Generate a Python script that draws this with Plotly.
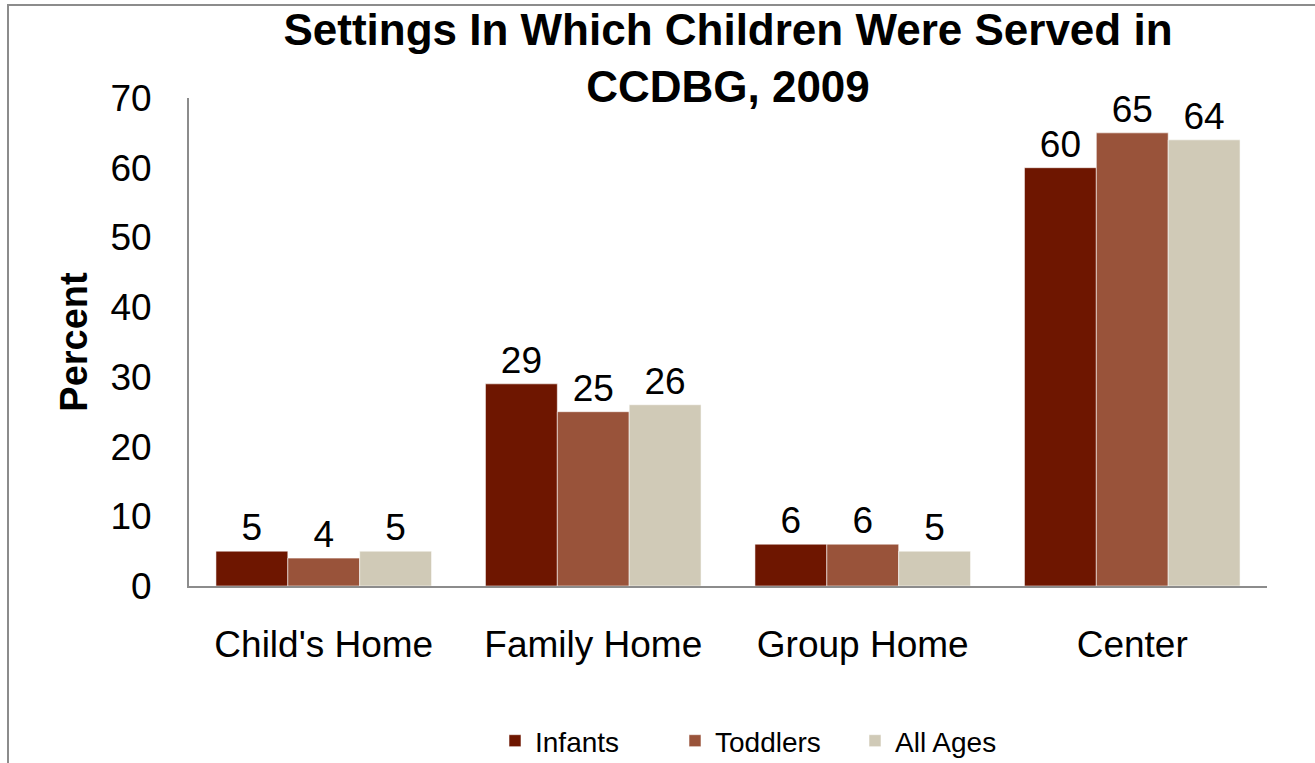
import plotly.graph_objects as go

# Care settings and share of children served (percent)
settings = ["Child's Home", "Family Home", "Group Home", "Center"]
infants = [5, 29, 6, 60]
toddlers = [4, 25, 6, 65]
all_ages = [5, 26, 5, 64]

series = [
    ("Infants", infants, "#6E1600"),
    ("Toddlers", toddlers, "#99533A"),
    ("All Ages", all_ages, "#D0CAB7"),
]

W, H = 1315, 763
L, R, T, B = 189, 48, 98, 177
pw, ph = W - L - R, H - T - B

FONT = "Liberation Sans, Arial, sans-serif"

fig = go.Figure()
for name, vals, color in series:
    fig.add_trace(go.Bar(
        name=name,
        x=settings,
        y=vals,
        marker=dict(color=color, line=dict(color="rgba(255,255,255,0.55)", width=1)),
        text=vals,
        textposition="outside",
        textfont=dict(size=37, color="black", family=FONT),
        cliponaxis=False,
    ))

# outer chart frame (extends past the page edge on the right and bottom)
def px_x(v):
    return (v - L) / pw

def px_y(v):
    return (H - B - v) / ph

fig.add_shape(
    type="rect", xref="paper", yref="paper",
    x0=px_x(8), x1=px_x(W + 20), y0=px_y(H + 20), y1=px_y(5),
    line=dict(color="#8C8C8C", width=2), fillcolor="rgba(0,0,0,0)", layer="below",
)

fig.update_layout(
    width=W, height=H,
    margin=dict(l=L, r=R, t=T, b=B, autoexpand=False),
    paper_bgcolor="white", plot_bgcolor="white",
    barmode="group", bargap=0.2, bargroupgap=0,
    font=dict(family=FONT, color="black"),
    title=dict(
        text="<b>Settings In Which Children Were Served in<br>CCDBG, 2009</b>",
        x=0.5, xref="paper", xanchor="center",
        y=0.941, yref="container", yanchor="top",
        font=dict(size=44, family=FONT, color="black"),
    ),
    xaxis=dict(
        showline=True, linecolor="#8C8C8C", linewidth=2,
        showgrid=False, ticks="", ticklabelstandoff=25,
        tickfont=dict(size=37, family=FONT),
    ),
    yaxis=dict(
        range=[0, 70], dtick=10, showline=True, linecolor="#8C8C8C", linewidth=2,
        showgrid=False, zeroline=False, ticks="", ticklabelstandoff=28,
        tickfont=dict(size=37, family=FONT),
        title=dict(text="<b>Percent</b>", font=dict(size=38, family=FONT), standoff=11),
    ),
    legend=dict(
        orientation="h",
        xref="container", x=495 / W, xanchor="left",
        yref="container", y=(H - 741) / H, yanchor="middle",
        font=dict(size=28, family=FONT),
        entrywidth=135, traceorder="normal",
        bgcolor="rgba(0,0,0,0)",
    ),
    showlegend=True,
)

fig.write_html("out.html")
